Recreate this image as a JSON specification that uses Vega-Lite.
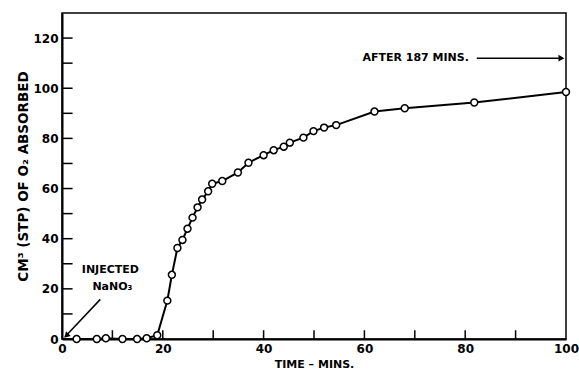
{
  "$schema": "https://vega.github.io/schema/vega-lite/v6.json",
  "width": 504,
  "height": 326,
  "autosize": "none",
  "padding": {"left": 62, "top": 13, "right": 13, "bottom": 34},
  "background": "white",
  "config": {
    "view": {"stroke": "black", "strokeWidth": 1.5},
    "font": "DejaVu Sans"
  },
  "datasets": {
    "obs": [
      {"t": 0, "v": 0},
      {"t": 2.9, "v": 0},
      {"t": 6.9, "v": 0},
      {"t": 8.7, "v": 0.3},
      {"t": 12, "v": 0},
      {"t": 14.9, "v": 0},
      {"t": 16.8, "v": 0.3},
      {"t": 18.9, "v": 1.5},
      {"t": 20.9, "v": 15.3},
      {"t": 21.8, "v": 25.6},
      {"t": 22.9, "v": 36.3},
      {"t": 23.9, "v": 39.5},
      {"t": 24.9, "v": 44},
      {"t": 25.9, "v": 48.4},
      {"t": 26.9, "v": 52.5},
      {"t": 27.8, "v": 55.6},
      {"t": 29, "v": 58.9},
      {"t": 29.8, "v": 61.9},
      {"t": 31.8, "v": 63},
      {"t": 34.9, "v": 66.4},
      {"t": 37, "v": 70.3},
      {"t": 40, "v": 73.3},
      {"t": 42, "v": 75.3},
      {"t": 44, "v": 76.7},
      {"t": 45.2, "v": 78.3},
      {"t": 47.9, "v": 80.3},
      {"t": 49.9, "v": 82.9},
      {"t": 52, "v": 84.3},
      {"t": 54.4, "v": 85.3},
      {"t": 62, "v": 90.7},
      {"t": 68, "v": 92},
      {"t": 81.8, "v": 94.3},
      {"t": 100, "v": 98.5}
    ],
    "centerLabels": [
      {"t": 9.6, "v": 27.5, "txt": "INJECTED"},
      {"t": 10, "v": 20.8, "txt": "NaNO₃"}
    ],
    "leftLabels": [
      {"t": 59.6, "v": 112, "txt": "AFTER 187 MINS."}
    ],
    "segments": [
      {"t": 7.6, "v": 15.8, "t2": 0.6, "v2": 0.9},
      {"t": 82.3, "v": 112, "t2": 98.6, "v2": 112},
      {"t": 10, "v": 0, "t2": 10, "v2": 3.5},
      {"t": 20, "v": 0, "t2": 20, "v2": 3.5},
      {"t": 30, "v": 0, "t2": 30, "v2": 3.5},
      {"t": 40, "v": 0, "t2": 40, "v2": 3.5},
      {"t": 50, "v": 0, "t2": 50, "v2": 3.5},
      {"t": 60, "v": 0, "t2": 60, "v2": 3.5},
      {"t": 70, "v": 0, "t2": 70, "v2": 3.5},
      {"t": 80, "v": 0, "t2": 80, "v2": 3.5},
      {"t": 90, "v": 0, "t2": 90, "v2": 3.5},
      {"t": 0, "v": 10, "t2": 2.1, "v2": 10},
      {"t": 0, "v": 20, "t2": 2.1, "v2": 20},
      {"t": 0, "v": 30, "t2": 2.1, "v2": 30},
      {"t": 0, "v": 40, "t2": 2.1, "v2": 40},
      {"t": 0, "v": 50, "t2": 2.1, "v2": 50},
      {"t": 0, "v": 60, "t2": 2.1, "v2": 60},
      {"t": 0, "v": 70, "t2": 2.1, "v2": 70},
      {"t": 0, "v": 80, "t2": 2.1, "v2": 80},
      {"t": 0, "v": 90, "t2": 2.1, "v2": 90},
      {"t": 0, "v": 100, "t2": 2.1, "v2": 100},
      {"t": 0, "v": 110, "t2": 2.1, "v2": 110},
      {"t": 0, "v": 120, "t2": 2.1, "v2": 120}
    ],
    "heads": [
      {"t": 1.0, "v": 1.6, "ang": 225},
      {"t": 98.9, "v": 112, "ang": 90}
    ]
  },
  "layer": [
    {
      "data": {"name": "obs"},
      "mark": {"type": "line", "color": "black", "strokeWidth": 2},
      "encoding": {
        "x": {
          "field": "t", "type": "quantitative",
          "scale": {"domain": [0, 100], "nice": false, "zero": false},
          "axis": {
            "title": "TIME – MINS.",
            "values": [0, 20, 40, 60, 80, 100],
            "grid": false,
            "ticks": false,
            "domainColor": "black", "domainWidth": 2,
            "labelPadding": 4, "labelFontSize": 12, "labelFontWeight": "bold", "labelColor": "black",
            "labelFlush": false,
            "titleFontSize": 11, "titleFontWeight": "bold", "titleColor": "black", "titlePadding": 4
          }
        },
        "y": {
          "field": "v", "type": "quantitative",
          "scale": {"domain": [0, 130], "nice": false, "zero": false},
          "axis": {
            "title": "CM³ (STP) OF O₂ ABSORBED",
            "values": [0, 20, 40, 60, 80, 100, 120],
            "grid": false,
            "ticks": false,
            "domainColor": "black", "domainWidth": 2,
            "labelPadding": 4, "labelFontSize": 12, "labelFontWeight": "bold", "labelColor": "black",
            "labelFlush": false,
            "titleFontSize": 13.5, "titleFontWeight": "bold", "titleColor": "black", "titlePadding": 2
          }
        }
      }
    },
    {
      "data": {"name": "segments"},
      "mark": {"type": "rule", "color": "black", "strokeWidth": 1.5},
      "encoding": {
        "x": {"field": "t", "type": "quantitative"},
        "y": {"field": "v", "type": "quantitative"},
        "x2": {"field": "t2"},
        "y2": {"field": "v2"}
      }
    },
    {
      "data": {"name": "obs"},
      "transform": [{"filter": "datum.t > 0"}],
      "mark": {"type": "point", "shape": "circle", "filled": true, "fill": "white", "stroke": "black", "strokeWidth": 1.5, "size": 48, "opacity": 1},
      "encoding": {
        "x": {"field": "t", "type": "quantitative"},
        "y": {"field": "v", "type": "quantitative"}
      }
    },
    {
      "data": {"name": "heads"},
      "mark": {"type": "point", "shape": "triangle", "filled": true, "color": "black", "size": 45, "opacity": 1},
      "encoding": {
        "x": {"field": "t", "type": "quantitative"},
        "y": {"field": "v", "type": "quantitative"},
        "angle": {"field": "ang", "type": "quantitative", "scale": null}
      }
    },
    {
      "data": {"name": "centerLabels"},
      "mark": {"type": "text", "fontSize": 11, "fontWeight": "bold", "color": "black", "baseline": "middle", "align": "center"},
      "encoding": {
        "x": {"field": "t", "type": "quantitative"},
        "y": {"field": "v", "type": "quantitative"},
        "text": {"field": "txt"}
      }
    },
    {
      "data": {"name": "leftLabels"},
      "mark": {"type": "text", "fontSize": 11, "fontWeight": "bold", "color": "black", "baseline": "middle", "align": "left"},
      "encoding": {
        "x": {"field": "t", "type": "quantitative"},
        "y": {"field": "v", "type": "quantitative"},
        "text": {"field": "txt"}
      }
    }
  ]
}
